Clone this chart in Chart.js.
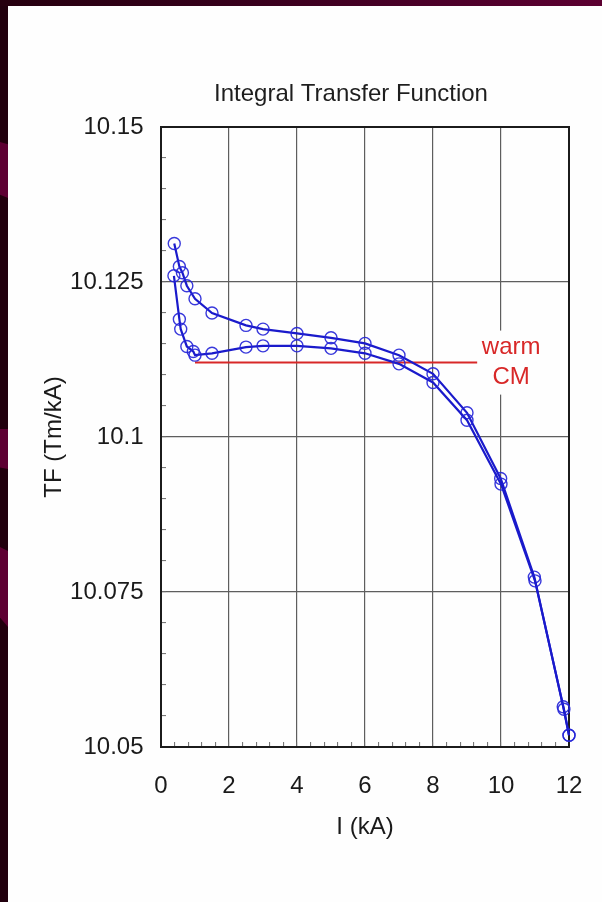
<!DOCTYPE html>
<html>
<head>
<meta charset="utf-8">
<script src="https://cdn.jsdelivr.net/npm/chart.js@4/dist/chart.umd.min.js"></script>
<style>
  html, body { margin: 0; padding: 0; width: 602px; height: 902px; overflow: hidden; background: #22000e; }
  #topband { position: absolute; left: 0; top: 0; width: 602px; height: 6px;
             background: linear-gradient(to right, #26000f 0%, #34001a 35%, #4a0028 70%, #5c0031 100%); }
  .blot { position: absolute; left: 0; width: 8px; background: #5e0033; }
  #panel { position: absolute; left: 8px; top: 6px; width: 594px; height: 896px; background: #fefefe; }
  #chart { position: absolute; left: 0; top: 0; }
</style>
</head>
<body>
<div id="topband"></div>
<div class="blot" style="top:142px;height:56px;clip-path:polygon(0 0,100% 4%,100% 100%,0 94%)"></div>
<div class="blot" style="top:429px;height:40px;clip-path:polygon(0 0,100% 0,100% 100%,0 96%)"></div>
<div class="blot" style="top:547px;height:80px;clip-path:polygon(0 0,100% 5%,100% 100%,0 88%)"></div>
<div id="panel"></div>
<canvas id="chart" width="602" height="902"></canvas>
<script>
// Ramp up: current (kA) and integral transfer function (Tm/kA)
const currentUp = [0.38, 0.54, 0.58, 0.76, 0.95, 1.0, 1.5, 2.5, 3.0, 4.0, 5.0, 6.0, 7.0, 8.0, 9.0, 10.0, 11.0, 11.85, 12.0];
const tfUp      = [10.1260, 10.1190, 10.1174, 10.1146, 10.1138, 10.1132, 10.1135, 10.1145, 10.1147, 10.1147, 10.1143, 10.1135, 10.1118, 10.1088, 10.1027, 10.0924, 10.0768, 10.0561, 10.0519];

// Ramp down
const currentDown = [12.0, 11.83, 10.98, 9.99, 9.0, 8.0, 7.0, 6.0, 5.0, 4.0, 3.0, 2.5, 1.5, 1.0, 0.76, 0.63, 0.54, 0.39];
const tfDown      = [10.0519, 10.0565, 10.0774, 10.0933, 10.1039, 10.1102, 10.1132, 10.1151, 10.1160, 10.1167, 10.1174, 10.1180, 10.1200, 10.1223, 10.1244, 10.1265, 10.1275, 10.1312];

// Warm (cold-mass) reference level
const warmCurrent = [1.0, 9.3];
const warmTF = [10.112, 10.112];
const warmLabel = ['warm', 'CM'];
const warmLabelCurrent = 10.3;

// Axis tick labels
const xTickLabels = ['0', '2', '4', '6', '8', '10', '12'];
const yTickLabels = ['10.05', '10.075', '10.1', '10.125', '10.15'];

const xMajor = xTickLabels.map(Number);
const yMajor = yTickLabels.map(Number);

function withMinor(majors, parts) {
  const out = [];
  for (let i = 0; i < majors.length; i++) {
    out.push(majors[i]);
    if (i < majors.length - 1) {
      const a = majors[i], b = majors[i + 1];
      for (let k = 1; k < parts; k++) out.push(a + (b - a) * k / parts);
    }
  }
  return out;
}
const xAllTicks = withMinor(xMajor, 5);
const yAllTicks = withMinor(yMajor, 5);

function majorIndex(majors, v) {
  return majors.findIndex(m => Math.abs(m - v) < 1e-9);
}

const toPoints = (xs, ys) => xs.map((x, i) => ({ x, y: ys[i] }));

const FONT = "'Liberation Sans', Arial, Helvetica, sans-serif";
const BLUE = '#1a1acb';

const framePlugin = {
  id: 'frame',
  beforeDatasetsDraw(chart) {
    const { ctx, chartArea: a } = chart;
    ctx.save();
    ctx.strokeStyle = '#1b1b1b';
    ctx.lineWidth = 2;
    ctx.strokeRect(a.left, a.top, a.right - a.left, a.bottom - a.top);
    ctx.restore();
  }
};

const headingPlugin = {
  id: 'heading',
  afterDraw(chart, args, opts) {
    const { ctx, chartArea: a } = chart;
    ctx.save();
    ctx.font = opts.size + 'px ' + FONT;
    ctx.fillStyle = opts.color;
    ctx.textAlign = 'center';
    ctx.textBaseline = 'alphabetic';
    ctx.fillText(opts.text, (a.left + a.right) / 2 + opts.shift, a.top - opts.gap);
    ctx.restore();
  }
};

const notePlugin = {
  id: 'note',
  afterDatasetsDraw(chart, args, opts) {
    const { ctx, scales: { x, y } } = chart;
    const cx = x.getPixelForValue(warmLabelCurrent);
    const cy = y.getPixelForValue(warmTF[0]);
    ctx.save();
    ctx.font = opts.size + 'px ' + FONT;
    const w = Math.max(...warmLabel.map(t => ctx.measureText(t).width)) + 8;
    const lh = opts.lineGap;
    ctx.fillStyle = '#fefefe';
    ctx.fillRect(cx - w / 2, cy - lh - 2, w, 2 * lh + 4);
    ctx.fillStyle = opts.color;
    ctx.textAlign = 'center';
    ctx.textBaseline = 'middle';
    warmLabel.forEach((t, i) => {
      ctx.fillText(t, cx, cy + (i - (warmLabel.length - 1) / 2) * lh);
    });
    ctx.restore();
  }
};

new Chart(document.getElementById('chart'), {
  type: 'line',
  data: {
    datasets: [
      {
        label: 'ramp up',
        data: toPoints(currentUp, tfUp),
        borderColor: BLUE, borderWidth: 2.2,
        pointRadius: 6, pointBorderWidth: 1.4,
        pointBorderColor: 'rgba(35,35,215,0.9)', pointBackgroundColor: 'rgba(0,0,0,0)',
        tension: 0, clip: false
      },
      {
        label: 'ramp down',
        data: toPoints(currentDown, tfDown),
        borderColor: BLUE, borderWidth: 2.2,
        pointRadius: 6, pointBorderWidth: 1.4,
        pointBorderColor: 'rgba(35,35,215,0.9)', pointBackgroundColor: 'rgba(0,0,0,0)',
        tension: 0, clip: false
      },
      {
        label: 'warm CM',
        data: toPoints(warmCurrent, warmTF),
        borderColor: '#d82828', borderWidth: 2,
        pointRadius: 0, tension: 0, clip: false
      }
    ]
  },
  options: {
    responsive: false,
    animation: false,
    devicePixelRatio: 1,
    layout: { padding: { left: 0, top: 127, right: 33, bottom: 0 } },
    plugins: {
      legend: { display: false },
      tooltip: { enabled: false },
      title: { display: false },
      heading: { text: 'Integral Transfer Function', size: 24, color: '#1e1e1e', shift: -14, gap: 26 },
      note: { size: 24, color: '#d82828', lineGap: 30 }
    },
    scales: {
      x: {
        type: 'linear',
        min: xMajor[0], max: xMajor[xMajor.length - 1],
        afterBuildTicks: s => { s.ticks = xAllTicks.map(v => ({ value: v })); },
        afterFit: s => { s.height = 155; s.paddingLeft = 0; s.paddingRight = 0; },
        ticks: {
          autoSkip: false, maxRotation: 0, padding: 30,
          color: '#1a1a1a', font: { family: FONT, size: 24 },
          callback: v => { const i = majorIndex(xMajor, v); return i >= 0 ? xTickLabels[i] : ''; }
        },
        grid: {
          color: c => majorIndex(xMajor, c.tick.value) >= 0 ? '#5e5e5e' : 'rgba(0,0,0,0)',
          lineWidth: 1.2, tickColor: '#6a6a6a', tickWidth: 1, tickLength: -5, drawTicks: true
        },
        border: { display: true, color: '#1b1b1b', width: 2 },
        title: { display: true, text: 'I (kA)', color: '#1a1a1a', font: { family: FONT, size: 24 }, padding: { top: 0, bottom: 60 } }
      },
      y: {
        type: 'linear',
        min: yMajor[0], max: yMajor[yMajor.length - 1],
        afterBuildTicks: s => { s.ticks = yAllTicks.map(v => ({ value: v })); },
        afterFit: s => { s.width = 161; s.paddingTop = 0; s.paddingBottom = 0; },
        ticks: {
          autoSkip: false, padding: 22.5,
          color: '#1a1a1a', font: { family: FONT, size: 24 },
          callback: v => { const i = majorIndex(yMajor, v); return i >= 0 ? yTickLabels[i] : ''; }
        },
        grid: {
          color: c => majorIndex(yMajor, c.tick.value) >= 0 ? '#5e5e5e' : 'rgba(0,0,0,0)',
          lineWidth: 1.2, tickColor: '#6a6a6a', tickWidth: 1, tickLength: -5, drawTicks: true
        },
        border: { display: true, color: '#1b1b1b', width: 2 },
        title: { display: true, text: 'TF (Tm/kA)', color: '#1a1a1a', font: { family: FONT, size: 24 }, padding: { top: 40, bottom: 0 } }
      }
    }
  },
  plugins: [framePlugin, headingPlugin, notePlugin]
});
</script>
</body>
</html>
